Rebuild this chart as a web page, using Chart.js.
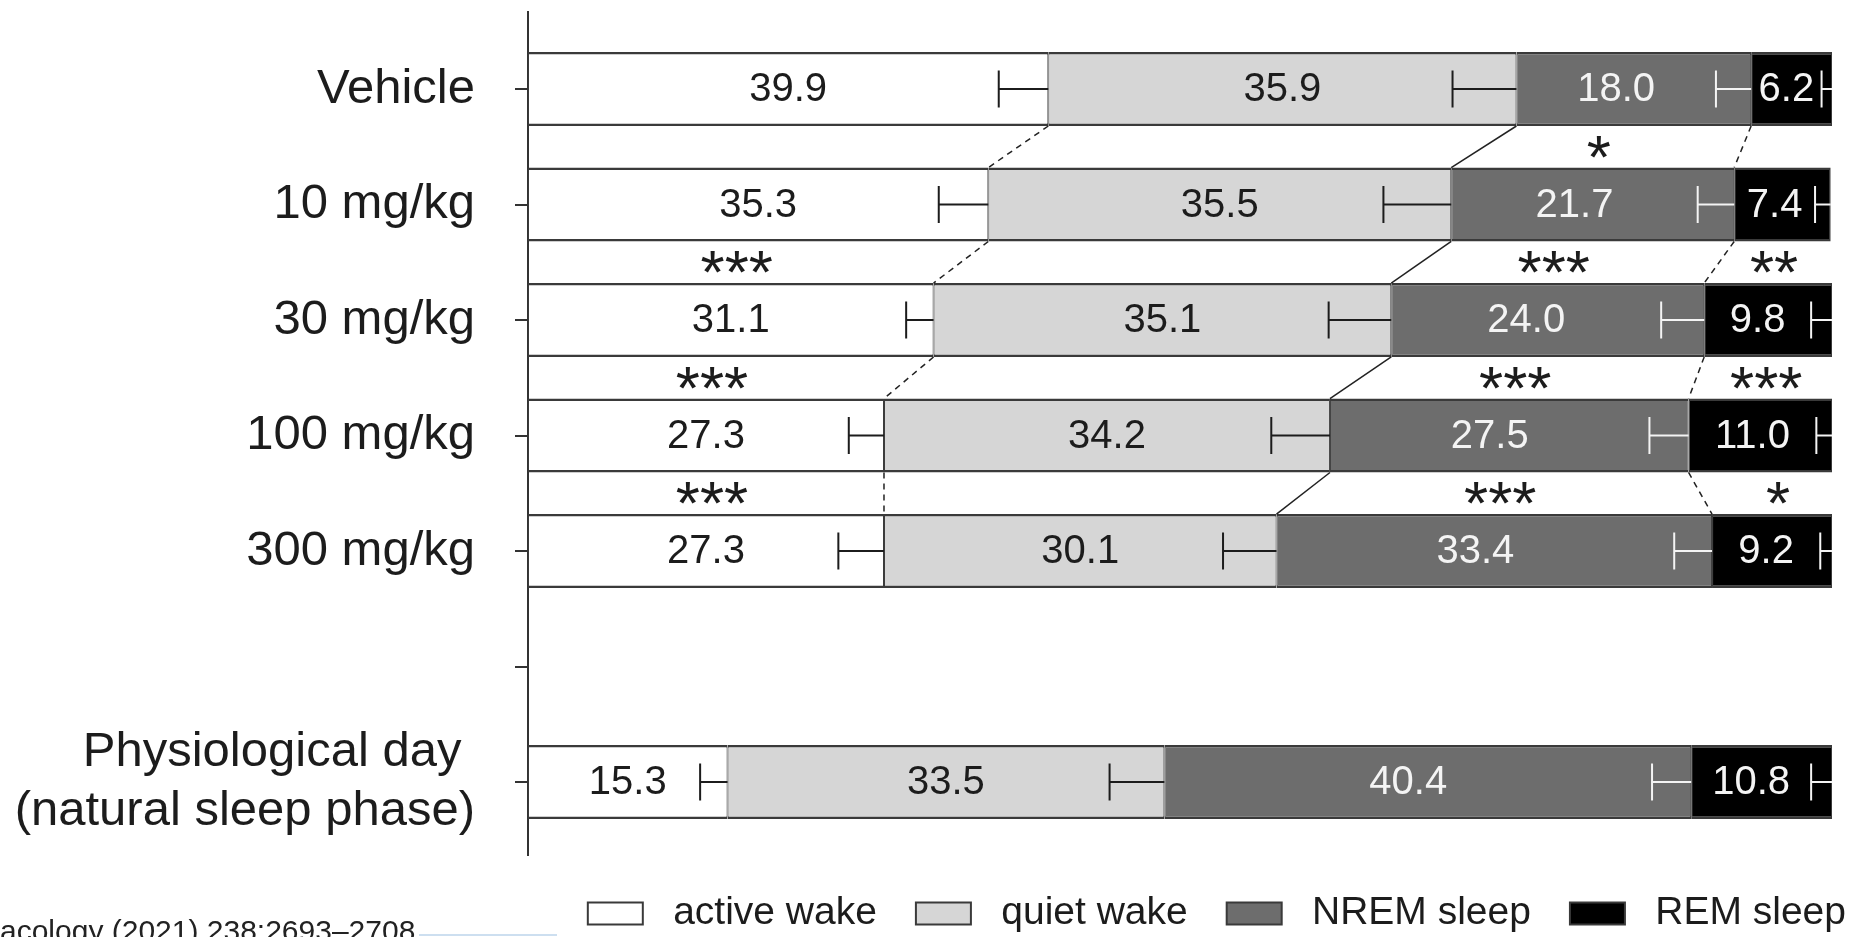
<!DOCTYPE html>
<html>
<head>
<meta charset="utf-8">
<title>Sleep-wake states</title>
<script src="https://cdn.jsdelivr.net/npm/chart.js@4.4.1/dist/chart.umd.min.js"></script>
<style>
    html, body { margin: 0; padding: 0; background: #fff; overflow: hidden; }
    #wrap { position: relative; width: 1856px; height: 937px; overflow: hidden; }
    #citation {
        position: absolute; left: 0; top: 916px;
        font: 30px "Liberation Sans", Arial, sans-serif; line-height: 30px;
        color: #222; white-space: nowrap;
    }
    #citationRule { position: absolute; left: 419px; top: 934px; width: 138px; height: 2px; background: #cddff0; }
</style>
</head>
<body>
<div id="wrap">
    <canvas id="chart"></canvas>
    <div id="citation">acology (2021) 238:2693–2708</div>
    <div id="citationRule"></div>
</div>
<script>
// Groups (row 5 is the empty spacer row)
var groups = ['Vehicle', '10 mg/kg', '30 mg/kg', '100 mg/kg', '300 mg/kg', '', ['Physiological day\u00a0', '(natural sleep phase)']];
var stateNames = ['active wake', 'quiet wake', 'NREM sleep', 'REM sleep'];

// % of time in each state
var activeWake = [39.9, 35.3, 31.1, 27.3, 27.3, null, 15.3];
var quietWake  = [35.9, 35.5, 35.1, 34.2, 30.1, null, 33.5];
var nremSleep  = [18.0, 21.7, 24.0, 27.5, 33.4, null, 40.4];
var remSleep   = [6.2, 7.4, 9.8, 11.0, 9.2, null, 10.8];

// SEM (drawn as left-pointing error bars)
var activeWakeSem = [3.8, 3.8, 2.1, 2.7, 3.5, null, 2.1];
var quietWakeSem  = [4.9, 5.2, 4.8, 4.5, 4.1, null, 4.2];
var nremSleepSem  = [2.7, 2.8, 3.3, 3.0, 2.9, null, 3.0];
var remSleepSem   = [0.8, 1.2, 1.6, 1.2, 0.9, null, 1.6];

// significance vs vehicle
var activeWakeStars = ['', '', '***', '***', '***', '', ''];
var quietWakeStars  = ['', '', '', '', '', '', ''];
var nremSleepStars  = ['', '*', '***', '***', '***', '', ''];
var remSleepStars   = ['', '', '**', '***', '*', '', ''];

var series = [activeWake, quietWake, nremSleep, remSleep];
var sems = [activeWakeSem, quietWakeSem, nremSleepSem, remSleepSem];
var stars = [activeWakeStars, quietWakeStars, nremSleepStars, remSleepStars];

var fills = ['#ffffff', '#d6d6d6', '#6d6d6d', '#000000'];
var inkColors = ['#1c1c1c', '#1c1c1c', '#f4f4f4', '#f4f4f4'];
// dark segments keep their label clear of the error bar
var labelBeforeCap = [false, false, true, true];
var boundaryDash = [[6, 5], [], [6, 5]];
var fontFamily = '"Liberation Sans", Arial, sans-serif';

// rows that actually hold a bar
var rows = groups.map(function(g, i) { return i; }).filter(function(i) { return activeWake[i] !== null; });

function cumulative(row, upTo) {
    var sum = 0;
    for (var s = 0; s <= upTo; s++) { sum += series[s][row]; }
    return sum;
}

var overlayPlugin = {
    id: 'overlay',
    afterDatasetsDraw: function(chart) {
        var ctx = chart.ctx;
        var xs = chart.scales.x;
        var ys = chart.scales.y;
        var metas = series.map(function(v, s) { return chart.getDatasetMeta(s); });

        ctx.save();

        // connectors between consecutive dose rows
        ctx.strokeStyle = '#222';
        ctx.lineWidth = 1.5;
        rows.forEach(function(row, k) {
            var next = rows[k + 1];
            if (next === undefined || next !== row + 1) return;
            var a = metas[0].data[k], b = metas[0].data[k + 1];
            var y1 = a.y + a.height / 2, y2 = b.y - b.height / 2;
            for (var s = 0; s < 3; s++) {
                ctx.setLineDash(boundaryDash[s]);
                ctx.beginPath();
                ctx.moveTo(xs.getPixelForValue(cumulative(row, s)), y1);
                ctx.lineTo(xs.getPixelForValue(cumulative(next, s)), y2);
                ctx.stroke();
            }
        });
        ctx.setLineDash([]);

        rows.forEach(function(row, k) {
            series.forEach(function(vals, s) {
                var el = metas[s].data[k];
                var end = cumulative(row, s);
                var start = end - vals[row];
                var capX = xs.getPixelForValue(end - sems[s][row]);
                var endX = xs.getPixelForValue(end);
                var capHalf = el.height * 0.25;

                // error bar
                ctx.strokeStyle = inkColors[s];
                ctx.lineWidth = 2;
                ctx.beginPath();
                ctx.moveTo(capX, el.y);
                ctx.lineTo(endX, el.y);
                ctx.moveTo(capX, el.y - capHalf);
                ctx.lineTo(capX, el.y + capHalf);
                ctx.stroke();

                // value label
                var centreX = xs.getPixelForValue((start + end) / 2);
                var labelX = labelBeforeCap[s] ? (xs.getPixelForValue(start) + capX) / 2 : centreX;
                ctx.fillStyle = inkColors[s];
                ctx.font = '40px ' + fontFamily;
                ctx.textAlign = 'center';
                ctx.textBaseline = 'middle';
                ctx.fillText(vals[row].toFixed(1), labelX, el.y + 1);

                // stars in the gap above the bar
                if (stars[s][row]) {
                    ctx.fillStyle = '#1c1c1c';
                    ctx.font = '62px ' + fontFamily;
                    ctx.textBaseline = 'alphabetic';
                    ctx.fillText(stars[s][row], centreX + 6, ys.getPixelForValue(row - 0.5) + 31);
                }
            });
        });

        ctx.restore();
    }
};

Chart.defaults.font.family = fontFamily;
Chart.defaults.color = '#1c1c1c';

new Chart(document.getElementById('chart'), {
    type: 'bar',
    data: {
        datasets: series.map(function(vals, s) {
            return {
                label: stateNames[s],
                data: rows.map(function(row) { return {x: vals[row], y: row}; }),
                backgroundColor: fills[s],
                borderColor: '#3a3a3a',
                borderWidth: { top: 2.5, bottom: 2.5, left: 1, right: 1 },
                borderSkipped: false,
                categoryPercentage: 1,
                barPercentage: 0.64
            };
        })
    },
    options: {
        indexAxis: 'y',
        responsive: true,
        maintainAspectRatio: false,
        animation: false,
        layout: { padding: { left: 3, top: 12, right: -29, bottom: -6 } },
        scales: {
            x: { type: 'linear', min: 0, max: 100, stacked: true, display: false },
            y: {
                type: 'linear',
                reverse: true,
                stacked: true,
                offset: false,
                min: -0.667,
                max: 6.632,
                afterBuildTicks: function(scale) {
                    scale.ticks = groups.map(function(g, i) { return {value: i}; });
                },
                afterFit: function(scale) {
                    scale.width = 525;
                    scale.paddingTop = 0;
                    scale.paddingBottom = 0;
                },
                ticks: {
                    autoSkip: false,
                    padding: 40,
                    color: '#1c1c1c',
                    font: { size: 49, lineHeight: 1.22 },
                    callback: function(value) { return groups[value]; }
                },
                grid: { offset: false, drawOnChartArea: false, drawTicks: true, tickLength: 13, color: '#333', lineWidth: 2 },
                border: { display: true, color: '#333', width: 2 }
            },
            yPad: {
                position: 'right',
                display: true,
                ticks: { display: false },
                grid: { display: false },
                border: { display: false },
                afterFit: function(scale) { scale.width = 53; }
            }
        },
        plugins: {
            legend: {
                position: 'bottom',
                align: 'end',
                labels: {
                    font: { size: 39 },
                    color: '#1c1c1c',
                    boxWidth: 55,
                    boxHeight: 22,
                    padding: 39,
                    generateLabels: function(chart) {
                        var items = Chart.defaults.plugins.legend.labels.generateLabels(chart);
                        items.forEach(function(item) {
                            item.text = '\u00a0' + item.text;
                            item.lineWidth = 2;
                        });
                        return items;
                    }
                }
            },
            tooltip: { enabled: false }
        }
    },
    plugins: [overlayPlugin]
});
</script>
</body>
</html>
